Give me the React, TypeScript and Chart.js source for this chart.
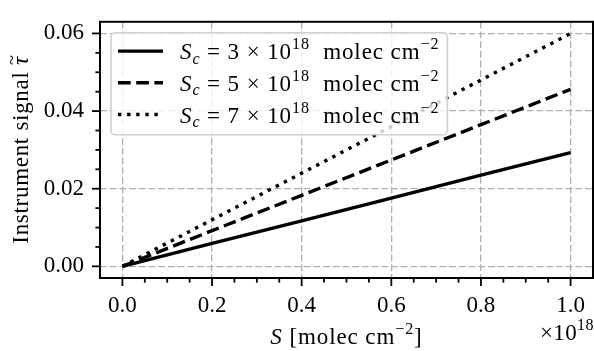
import React, { useEffect, useRef } from "react";
import { Chart, registerables } from "chart.js";

Chart.register(...registerables);

// x in units of 10^18 molec cm^-2
const xValues = [0, 0.2, 0.4, 0.6, 0.8, 1.0];
const seriesSc3 = [0, 0.0059, 0.0117, 0.0176, 0.0235, 0.0293];
const seriesSc5 = [0, 0.0092, 0.0183, 0.0274, 0.0365, 0.0456];
const seriesSc7 = [0, 0.012, 0.024, 0.036, 0.048, 0.06];
const scLabels = ["3", "5", "7"];

const xTicks = [0, 0.2, 0.4, 0.6, 0.8, 1.0];
const xMinorTicks = [0.05, 0.1, 0.15, 0.25, 0.3, 0.35, 0.45, 0.5, 0.55, 0.65, 0.7, 0.75, 0.85, 0.9, 0.95];
const yTicks = [0, 0.02, 0.04, 0.06];
const yMinorTicks = [0.005, 0.01, 0.015, 0.025, 0.03, 0.035, 0.045, 0.05, 0.055];

const FAMILY = '"Liberation Serif", "DejaVu Serif", serif';
const FS = 23;

type Part = { t: string; it?: boolean; sup?: boolean; sub?: boolean; tilde?: boolean };

function partFont(p: Part, size: number) {
  const s = p.sup || p.sub ? size * 0.7 : size;
  return `${p.it ? "italic " : ""}${s}px ${FAMILY}`;
}
function measureRich(ctx: CanvasRenderingContext2D, parts: Part[], size: number) {
  let w = 0;
  for (const p of parts) {
    ctx.font = partFont(p, size);
    w += ctx.measureText(p.t).width;
  }
  return w;
}
function drawRich(
  ctx: CanvasRenderingContext2D,
  parts: Part[],
  x: number,
  y: number,
  size: number,
  align: "left" | "center" | "right"
) {
  const w = measureRich(ctx, parts, size);
  let cx = align === "left" ? x : align === "center" ? x - w / 2 : x - w;
  ctx.textAlign = "left";
  ctx.textBaseline = "alphabetic";
  ctx.fillStyle = "#000";
  for (const p of parts) {
    ctx.font = partFont(p, size);
    const dy = p.sup ? -size * 0.42 : p.sub ? size * 0.2 : 0;
    const pw = ctx.measureText(p.t).width;
    ctx.fillText(p.t, cx, y + dy);
    if (p.tilde) {
      ctx.font = `${size * 0.8}px ${FAMILY}`;
      ctx.textAlign = "center";
      ctx.fillText("~", cx + pw / 2 + 1, y - size * 0.45);
      ctx.textAlign = "left";
    }
    cx += pw;
  }
  return w;
}

const legendParts = (v: string): Part[] => [
  { t: "S", it: true },
  { t: "c", it: true, sub: true },
  { t: " = " + v + " × 10" },
  { t: "18", sup: true },
  { t: "  molec cm" },
  { t: "−2", sup: true },
];

const styles = [
  { dash: [] as number[] },
  { dash: [12.7, 5.5] },
  { dash: [3.4, 5.7] },
];

const decorPlugin = {
  id: "decor",
  afterDraw(chart: any) {
    const ctx: any = chart.ctx;
    const a = chart.chartArea;
    const xs = chart.scales.x;
    const ys = chart.scales.y;
    ctx.save();

    // legend
    ctx.letterSpacing = "0.9px";
    const lx = a.left + 11;
    const ly = a.top + 11;
    let tw = 0;
    for (const v of scLabels) tw = Math.max(tw, measureRich(ctx, legendParts(v), FS));
    const textX = lx + 69;
    const bw = 69 + tw + 8;
    const bh = 102;
    ctx.beginPath();
    ctx.roundRect(lx, ly, bw, bh, 4);
    ctx.fillStyle = "rgba(255,255,255,0.8)";
    ctx.fill();
    ctx.lineWidth = 1.6;
    ctx.strokeStyle = "rgba(204,204,204,0.9)";
    ctx.stroke();
    scLabels.forEach((v, i) => {
      const cy = ly + 18.3 + i * 31.7;
      ctx.beginPath();
      ctx.setLineDash(styles[i].dash);
      ctx.lineWidth = 3.4;
      ctx.strokeStyle = "#000";
      ctx.lineCap = "butt";
      ctx.moveTo(lx + 7, cy);
      ctx.lineTo(lx + 52, cy);
      ctx.stroke();
      ctx.setLineDash([]);
      drawRich(ctx, legendParts(v), textX, cy + 8, FS, "left");
    });

    // x title
    drawRich(
      ctx,
      [{ t: "S", it: true }, { t: " [molec cm" }, { t: "−2", sup: true }, { t: "]" }],
      (a.left + a.right) / 2,
      344,
      FS,
      "center"
    );
    // offset text
    ctx.letterSpacing = "0.4px";
    drawRich(ctx, [{ t: "×10" }, { t: "18", sup: true }], a.right + 1, 340, FS, "right");

    // y title
    ctx.letterSpacing = "0.7px";
    ctx.save();
    ctx.translate(28, (a.top + a.bottom) / 2);
    ctx.rotate(-Math.PI / 2);
    drawRich(ctx, [{ t: "Instrument signal " }, { t: "τ", it: true, tilde: true }], 0, 0, FS, "center");
    ctx.restore();
    ctx.letterSpacing = "0px";

    // spines
    ctx.strokeStyle = "#000";
    ctx.lineWidth = 2;
    ctx.strokeRect(a.left, a.top, a.right - a.left, a.bottom - a.top);

    // tick marks
    ctx.lineWidth = 1.8;
    const tickX = (vals: number[], len: number) => {
      for (const v of vals) {
        const px = xs.getPixelForValue(v);
        ctx.beginPath();
        ctx.moveTo(px, a.bottom);
        ctx.lineTo(px, a.bottom + len);
        ctx.stroke();
      }
    };
    const tickY = (vals: number[], len: number) => {
      for (const v of vals) {
        const py = ys.getPixelForValue(v);
        ctx.beginPath();
        ctx.moveTo(a.left, py);
        ctx.lineTo(a.left - len, py);
        ctx.stroke();
      }
    };
    tickX(xTicks, 8);
    tickX(xMinorTicks, 4.6);
    tickY(yTicks, 8);
    tickY(yMinorTicks, 4.6);

    ctx.restore();
  },
};

export default function App() {
  const ref = useRef<HTMLCanvasElement | null>(null);
  useEffect(() => {
    document.body.style.margin = "0";
    const canvas = ref.current!;
    const mk = (vals: number[]) => xValues.map((x, i) => ({ x, y: vals[i] }));
    const chart = new Chart(canvas, {
      type: "line",
      data: {
        datasets: [seriesSc3, seriesSc5, seriesSc7].map((vals, i) => ({
          label: `Sc = ${scLabels[i]}e18`,
          data: mk(vals),
          borderColor: "#000",
          borderWidth: 3.4,
          borderDash: styles[i].dash,
          borderCapStyle: "butt",
          pointRadius: 0,
          tension: 0,
          fill: false,
        })),
      },
      options: {
        animation: false,
        responsive: false,
        devicePixelRatio: 1,
        layout: { padding: { top: 9, right: 1, left: 0, bottom: 0 } },
        plugins: { legend: { display: false }, tooltip: { enabled: false } },
        scales: {
          x: {
            type: "linear",
            min: -0.05,
            max: 1.05,
            afterBuildTicks: (s: any) => {
              s.ticks = xTicks.map((v) => ({ value: v }));
            },
            afterFit: (s: any) => {
              s.height = 73;
            },
            border: { display: false, dash: [6.8, 2.9] },
            grid: {
              color: "#b0b0b0",
              lineWidth: 1.3,
              tickColor: "rgba(0,0,0,0)",
              tickLength: 8,
            },
            ticks: {
              padding: 6,
              color: "#000",
              maxRotation: 0,
              font: { family: FAMILY, size: FS },
              callback: (v: any) => Number(v).toFixed(1),
            },
          },
          y: {
            type: "linear",
            min: -0.003,
            max: 0.063,
            afterBuildTicks: (s: any) => {
              s.ticks = yTicks.map((v) => ({ value: v }));
            },
            afterFit: (s: any) => {
              s.width = 100;
            },
            border: { display: false, dash: [6.8, 2.9] },
            grid: {
              color: "#b0b0b0",
              lineWidth: 1.3,
              tickColor: "rgba(0,0,0,0)",
              tickLength: 8,
            },
            ticks: {
              padding: 8,
              color: "#000",
              font: { family: FAMILY, size: FS },
              callback: (v: any) => Number(v).toFixed(2),
            },
          },
        },
      },
      plugins: [decorPlugin],
    } as any);
    return () => chart.destroy();
  }, []);
  return <canvas ref={ref} width={594} height={351} style={{ display: "block" }} />;
}
